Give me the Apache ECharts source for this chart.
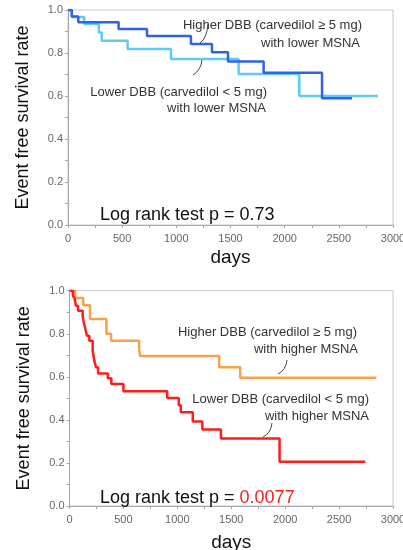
<!DOCTYPE html>
<html>
<head>
<meta charset="utf-8">
<script src="https://cdn.jsdelivr.net/npm/echarts@6/dist/echarts.min.js"></script>
<style>
  html, body { margin: 0; padding: 0; background: #fff; }
  #chart { width: 403px; height: 550px; }
</style>
</head>
<body>
<div id="chart"></div>
<script>
// top panel: lower MSNA
const topHighDays = [0, 35, 95, 467, 729, 1135, 1329, 1477, 1806, 2345, 2622]
const topHighSurv = [1.0, 0.970, 0.943, 0.912, 0.879, 0.842, 0.803, 0.760, 0.708, 0.589, 0.589]
const topLowDays = [0, 35, 150, 285, 312, 550, 951, 1575, 2135, 2862]
const topLowSurv = [1.0, 0.967, 0.935, 0.895, 0.857, 0.819, 0.772, 0.702, 0.600, 0.600]
// bottom panel: higher MSNA
const botHighDays = [0, 52, 127, 190, 342, 386, 645, 654, 1388, 1583, 2845]
const botHighSurv = [1.0, 0.966, 0.932, 0.868, 0.800, 0.767, 0.733, 0.697, 0.645, 0.596, 0.596]
const botLowDays = [0, 32, 48, 60, 79, 122, 132, 147, 162, 184, 215, 230, 246, 265, 355, 388, 500, 906, 1013, 1032, 1143, 1232, 1404, 1948, 2743]
const botLowSurv = [1.0, 0.976, 0.962, 0.930, 0.907, 0.881, 0.853, 0.822, 0.791, 0.768, 0.721, 0.675, 0.644, 0.616, 0.593, 0.567, 0.533, 0.502, 0.468, 0.435, 0.393, 0.355, 0.314, 0.206, 0.206]

const xTicks = [0, 500, 1000, 1500, 2000, 2500, 3000]
const yTicks = [0.0, 0.2, 0.4, 0.6, 0.8, 1.0]

const font = 'Liberation Sans'

const pairs = (xs, ys) => xs.map((x, i) => [x, ys[i]])

const makeX = (idx, gap) => ({
  type: 'value',
  gridIndex: idx,
  min: xTicks[0],
  max: xTicks[xTicks.length - 1],
  interval: xTicks[1] - xTicks[0],
  name: 'days',
  nameLocation: 'middle',
  nameGap: gap,
  nameTextStyle: { fontFamily: font, fontSize: 19, color: '#111' },
  axisLine: { lineStyle: { color: '#a8a8a8' } },
  axisTick: { length: 3, lineStyle: { color: '#a8a8a8' } },
  minorTick: { show: true, splitNumber: 2, length: 3, lineStyle: { color: '#a8a8a8' } },
  axisLabel: { fontFamily: font, fontSize: 11, color: '#666', margin: 8, formatter: v => String(v) },
  splitLine: { show: false }
})

const makeY = (idx) => ({
  type: 'value',
  gridIndex: idx,
  min: yTicks[0],
  max: yTicks[yTicks.length - 1],
  interval: 0.2,
  name: 'Event free survival rate',
  nameLocation: 'middle',
  nameRotate: 90,
  nameGap: 36,
  nameTextStyle: { fontFamily: font, fontSize: 18, color: '#111' },
  axisLine: { show: true, lineStyle: { color: '#a8a8a8' } },
  axisTick: { show: true, length: 3, lineStyle: { color: '#a8a8a8' } },
  minorTick: { show: true, splitNumber: 2, length: 3, lineStyle: { color: '#a8a8a8' } },
  axisLabel: { fontFamily: font, fontSize: 11, color: '#666', margin: 5, formatter: v => v.toFixed(1) },
  splitLine: { show: false }
})

const km = (name, idx, data, color) => ({
  name: name,
  type: 'line',
  xAxisIndex: idx,
  yAxisIndex: idx,
  step: 'end',
  symbol: 'none',
  silent: true,
  lineStyle: { color: color, width: 2.5 },
  data: data
})

const label = (text, x, y) => ({
  type: 'text',
  style: { text: text, x: x, y: y, align: 'right', verticalAlign: 'middle', fontFamily: font, fontSize: 13, fill: '#333' }
})

const leader = (x1, y1, x2, y2, cx, cy) => ({
  type: 'bezierCurve',
  shape: { x1: x1, y1: y1, x2: x2, y2: y2, cpx1: cx, cpy1: cy },
  style: { stroke: '#444', lineWidth: 1, fill: null }
})

const chart = echarts.init(document.getElementById('chart'))
chart.setOption({
  animation: false,
  grid: [
    { left: 68, right: 10, top: 10, height: 215, show: true, borderColor: '#c8c8c8', borderWidth: 1, outerBoundsMode: 'none' },
    { left: 69.5, right: 10, top: 290.7, height: 215.3, show: true, borderColor: '#c8c8c8', borderWidth: 1, outerBoundsMode: 'none' }
  ],
  xAxis: [makeX(0, 23), makeX(1, 27)],
  yAxis: [makeY(0), makeY(1)],
  title: [
    {
      text: 'Log rank test p = 0.73',
      left: 95, top: 201,
      textStyle: { fontFamily: font, fontSize: 18, fontWeight: 'normal', color: '#111' }
    },
    {
      text: '{a|Log rank test p = }{b|0.0077}',
      left: 95, top: 484,
      textStyle: {
        fontWeight: 'normal',
        rich: {
          a: { fontFamily: font, fontSize: 18, fontWeight: 'normal', color: '#111' },
          b: { fontFamily: font, fontSize: 18, fontWeight: 'normal', color: '#ff1a1a' }
        }
      }
    }
  ],
  graphic: [
    label('Higher DBB (carvedilol \u2265 5 mg)', 362, 25),
    label('with lower MSNA', 360, 43),
    label('Lower DBB (carvedilol < 5 mg)', 267, 92),
    label('with lower MSNA', 266, 108),
    label('Higher DBB (carvedilol \u2265 5 mg)', 357, 332),
    label('with higher MSNA', 358, 349),
    label('Lower DBB (carvedilol < 5 mg)', 369, 399),
    label('with higher MSNA', 369, 416),
    leader(208, 24, 200, 43, 207, 38),
    leader(202, 60, 193, 75, 201, 70),
    leader(287, 360, 278, 374, 286, 370),
    leader(272, 423, 263, 437, 271, 433)
  ],
  series: [
    km('Lower DBB, lower MSNA', 0, pairs(topLowDays, topLowSurv), '#5ccbf7'),
    km('Higher DBB, lower MSNA', 0, pairs(topHighDays, topHighSurv), '#2f62e6'),
    km('Higher DBB, higher MSNA', 1, pairs(botHighDays, botHighSurv), '#f8a14c'),
    km('Lower DBB, higher MSNA', 1, pairs(botLowDays, botLowSurv), '#ff1c1c')
  ]
})
</script>
</body>
</html>
